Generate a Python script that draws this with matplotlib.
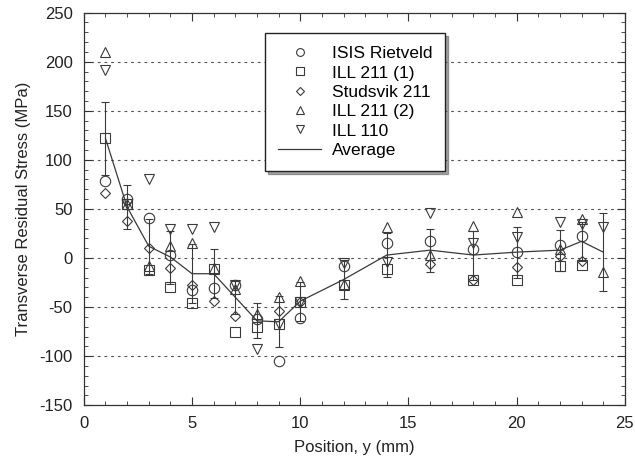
import numpy as np
import matplotlib
matplotlib.use("Agg")
import matplotlib.pyplot as plt
from matplotlib.ticker import MultipleLocator

plt.rcParams['font.family'] = ['Liberation Sans', 'DejaVu Sans']
plt.rcParams['axes.unicode_minus'] = False

nan = np.nan
positions = [1, 2, 3, 4, 5, 6, 7, 8, 9, 10, 12, 14, 16, 18, 20, 22, 23, 24]

isis_rietveld = [78, 60, 41, 3, -33, -31, -28, -62, -105, -61, -8, 15, 17, 9, 6, 13, 22, nan]
ill211_1 = [122, 55, -12, -30, -46, -11, -75, -70, -67, -45, -27, -11, nan, -22, -22, -8, -7, nan]
studsvik211 = [66, 38, 10, -10, -28, -44, -59, nan, -54, -45, nan, nan, -6, -22, -9, 2, -3, nan]
ill211_2 = [210, 55, -8, 12, 15, -10, -32, -57, -40, -23, -26, 32, 3, 33, 47, 9, 40, -14]
ill110 = [192, 55, 81, 30, 30, 32, -27, -93, -67, -45, -5, -4, 46, 15, 21, 37, 35, 32]
average = [122, 52, 12, 1, -16, -16, -40, -64, -65, -44, -22, 3, 8, 3, 6, 8, 17, 6]
avg_err = [37, 22, 28, 27, 30, 25, 17, 18, 26, 20, 20, 22, 22, 25, 26, 21, 20, 40]

series = [
    ("ISIS Rietveld", isis_rietveld, 'o'),
    ("ILL 211 (1)", ill211_1, 's'),
    ("Studsvik 211", studsvik211, 'D'),
    ("ILL 211 (2)", ill211_2, '^'),
    ("ILL 110", ill110, 'v'),
]
msizes = {'o': 7.5, 's': 7.5, 'D': 5.5, '^': 7.5, 'v': 7.5}

fig = plt.figure(figsize=(6.35, 4.69), dpi=100)
ax = fig.add_axes([0.132, 0.136, 0.852, 0.837])

col = '#3a3a3a'
ax.errorbar(positions, average, yerr=avg_err, fmt='none', ecolor=col,
            elinewidth=0.8, capsize=3, capthick=0.8, zorder=2)
handles = []
for name, vals, m in series:
    h, = ax.plot(positions, vals, linestyle='none', marker=m, markersize=msizes[m],
                 markerfacecolor='white', markeredgecolor=col, markeredgewidth=0.8,
                 fillstyle='none', label=name, zorder=3)
    handles.append(h)
h, = ax.plot(positions, average, color=col, linewidth=0.9, label='Average', zorder=2)
handles.append(h)

ax.set_xlim(0, 25)
ax.set_ylim(-150, 250)
ax.xaxis.set_major_locator(MultipleLocator(5))
ax.xaxis.set_minor_locator(MultipleLocator(1))
ax.yaxis.set_major_locator(MultipleLocator(50))
ax.yaxis.set_minor_locator(MultipleLocator(10))
ax.tick_params(which='both', direction='in', top=True, right=True, colors='#333333',
               labelcolor='#222222', labelsize=12)
ax.tick_params(which='major', length=6, width=0.8, pad=8)
ax.tick_params(which='minor', length=3, width=0.6)
for s in ax.spines.values():
    s.set_color('#333333')
    s.set_linewidth(0.9)

for yv in [200, 150, 100, 50, 0, -50, -100]:
    ax.axhline(yv, color='#555555', linestyle=(0, (2.5, 3.5)), linewidth=0.8, zorder=1)

ax.set_xlabel('Position, y (mm)', fontsize=12, color='#222222', labelpad=6)
ax.set_ylabel('Transverse Residual Stress (MPa)', fontsize=12, color='#222222', labelpad=6)

leg = ax.legend(handles=handles, loc='upper left', bbox_to_anchor=(0.335, 0.948),
                borderaxespad=0, fontsize=12.5, frameon=True, fancybox=False, shadow=True,
                edgecolor='#222222', handlelength=2.5, borderpad=0.75,
                labelspacing=0.24, handletextpad=0.6, markerscale=0.75)
leg.get_frame().set_linewidth(1.0)

fig.savefig('out.png', dpi=100)
